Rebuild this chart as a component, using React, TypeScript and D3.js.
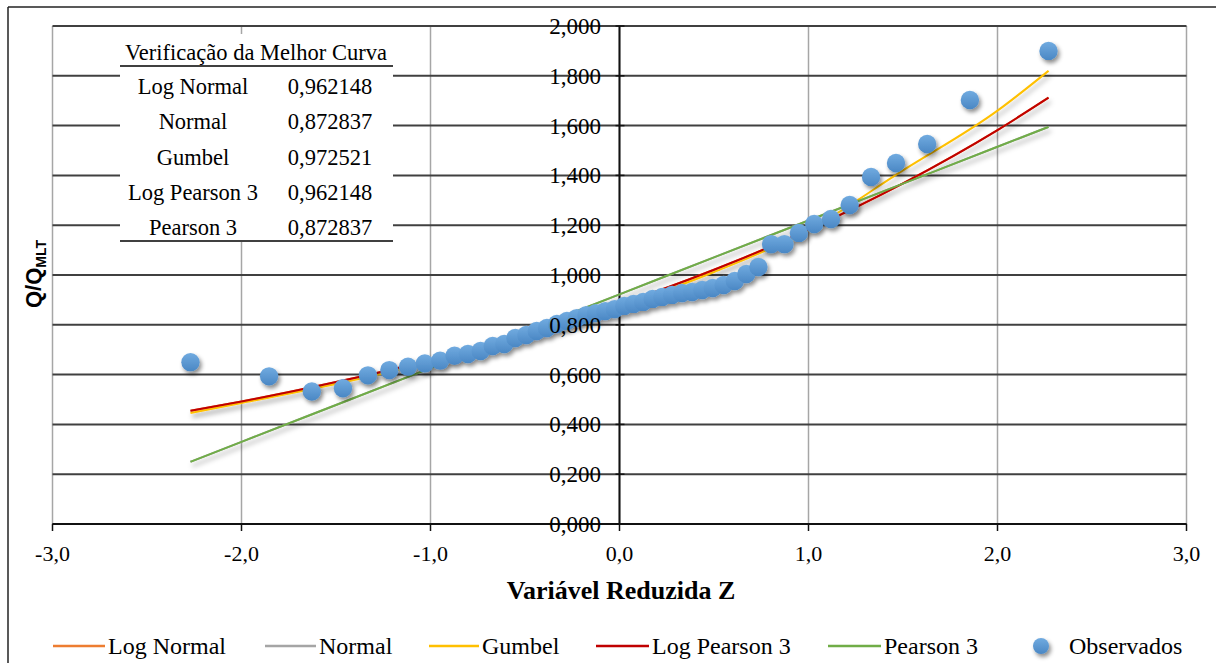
import React from 'react';
import * as d3 from 'd3';

const zObs = [
  -2.27, -1.854, -1.628, -1.463, -1.331, -1.218, -1.119, -1.03, -0.949, -0.873,
  -0.802, -0.735, -0.671, -0.61, -0.551, -0.493, -0.438, -0.384, -0.331, -0.278,
  -0.226, -0.175, -0.125, -0.075, -0.025, 0.025, 0.075, 0.125, 0.175, 0.226,
  0.278, 0.331, 0.384, 0.438, 0.493, 0.551, 0.61, 0.671, 0.735, 0.802,
  0.873, 0.949, 1.03, 1.119, 1.218, 1.331, 1.463, 1.628, 1.854, 2.27,
];
const qObs = [
  0.65, 0.593, 0.532, 0.545, 0.597, 0.618, 0.632, 0.645, 0.656, 0.676,
  0.683, 0.695, 0.715, 0.723, 0.747, 0.759, 0.775, 0.787, 0.803, 0.815,
  0.827, 0.839, 0.847, 0.855, 0.863, 0.876, 0.884, 0.892, 0.904, 0.912,
  0.92, 0.928, 0.932, 0.94, 0.948, 0.96, 0.976, 1.004, 1.032, 1.124,
  1.124, 1.169, 1.205, 1.225, 1.281, 1.394, 1.45, 1.526, 1.703, 1.9,
];

// fitted curves, sampled at these z values
const zFit = [-2.27, -2.0, -1.5, -1.0, -0.5, 0, 0.5, 1.0, 1.5, 2.0, 2.27];
const logNormal = [0.455, 0.492, 0.57, 0.659, 0.763, 0.882, 1.021, 1.182, 1.368, 1.582, 1.712];
const normal = [0.25, 0.33, 0.478, 0.626, 0.774, 0.922, 1.071, 1.219, 1.367, 1.515, 1.595];
const gumbel = [0.446, 0.486, 0.562, 0.65, 0.755, 0.873, 1.012, 1.18, 1.42, 1.66, 1.82];
const logPearson3 = [0.455, 0.492, 0.57, 0.659, 0.763, 0.882, 1.021, 1.182, 1.368, 1.582, 1.712];
const pearson3 = [0.25, 0.33, 0.478, 0.626, 0.774, 0.922, 1.071, 1.219, 1.367, 1.515, 1.595];

const seriesNames = ['Log Normal', 'Normal', 'Gumbel', 'Log Pearson 3', 'Pearson 3'];
const seriesValues = [logNormal, normal, gumbel, logPearson3, pearson3];
const seriesColors = ['#ED7D31', '#A5A5A5', '#FFC000', '#C00000', '#70AD47'];

// table in the top-left corner
const tableTitle = 'Verificação da Melhor Curva';
const tableNames = ['Log Normal', 'Normal', 'Gumbel', 'Log Pearson 3', 'Pearson 3'];
const tableValues = ['0,962148', '0,872837', '0,972521', '0,962148', '0,872837'];

const xTicks = [-3, -2, -1, 0, 1, 2, 3];
const yTicks = [0, 0.2, 0.4, 0.6, 0.8, 1.0, 1.2, 1.4, 1.6, 1.8, 2.0];

const W = 1216;
const H = 663;
const serif = '"Liberation Serif", "Times New Roman", serif';

const fmtY = (v: number) => v.toFixed(3).replace('.', ',');
const fmtX = (v: number) => v.toFixed(1).replace('.', ',');

// legend layout (line start/end, text start)
const legendLines = [[53, 105], [265, 316], [429, 479], [596, 649], [828, 881]];

const App: React.FC = () => {
  const x = d3.scaleLinear().domain([-3, 3]).range([52.5, 1186.5]);
  const y = d3.scaleLinear().domain([0, 2]).range([524, 26]);

  const line = d3.line<number>()
    .x((_, i) => x(zFit[i]))
    .y(d => y(d))
    .curve(d3.curveMonotoneX);

  const tableRowsY = [86, 121, 157, 192, 227];

  return (
    <svg width={W} height={H} style={{ position: 'fixed', left: 0, top: 0, display: 'block', background: '#fff' }}>
      <defs>
        <filter id="dotShadow" x="-50%" y="-50%" width="200%" height="200%">
          <feDropShadow dx="2" dy="3" stdDeviation="2" floodColor="#000" floodOpacity="0.45" />
        </filter>
        <filter id="lineShadow" x="-10%" y="-10%" width="120%" height="130%">
          <feDropShadow dx="2" dy="4" stdDeviation="2.5" floodColor="#000" floodOpacity="0.3" />
        </filter>
        <linearGradient id="dotFill" x1="0" y1="0" x2="0" y2="1">
          <stop offset="0%" stopColor="#71ABE0" />
          <stop offset="100%" stopColor="#4A87C4" />
        </linearGradient>
      </defs>

      {/* chart frame */}
      <line x1={8} x2={W} y1={7} y2={7} stroke="#222" strokeWidth={1.5} />
      <line x1={8} x2={8} y1={7} y2={H} stroke="#222" strokeWidth={1.5} />

      {/* vertical grid */}
      {xTicks.map(t => (
        <line key={'vg' + t} x1={x(t)} x2={x(t)} y1={y(2)} y2={y(0)} stroke="#A6A6A6" strokeWidth={1.5} />
      ))}
      {/* horizontal grid */}
      {yTicks.map(t => (
        <line key={'hg' + t} x1={x(-3)} x2={x(3)} y1={y(t)} y2={y(t)} stroke="#404040" strokeWidth={2} />
      ))}

      {/* axes */}
      <line x1={x(-3)} x2={x(3)} y1={y(0)} y2={y(0)} stroke="#111" strokeWidth={2} />
      <line x1={x(0)} x2={x(0)} y1={y(2)} y2={y(0)} stroke="#111" strokeWidth={2} />
      {xTicks.map(t => (
        <line key={'xt' + t} x1={x(t)} x2={x(t)} y1={y(0)} y2={y(0) + 7} stroke="#111" strokeWidth={1.5} />
      ))}
      {yTicks.map(t => (
        <line key={'yt' + t} x1={x(0) - 4} x2={x(0) + 5} y1={y(t)} y2={y(t)} stroke="#111" strokeWidth={1.5} />
      ))}

      {/* fitted curves */}
      <g filter="url(#lineShadow)">
        {seriesValues.map((vals, i) => (
          <path key={seriesNames[i]} d={line(vals) || ''} fill="none" stroke={seriesColors[i]} strokeWidth={2} />
        ))}
      </g>

      {/* observed points */}
      <g filter="url(#dotShadow)">
        {zObs.map((z, i) => (
          <circle key={'o' + i} cx={x(z)} cy={y(qObs[i])} r={9.2} fill="url(#dotFill)" />
        ))}
      </g>

      {/* tick labels */}
      {yTicks.map(t => (
        <text key={'yl' + t} x={601} y={y(t)} dy="0.35em" textAnchor="end" fontFamily={serif} fontSize={23} fill="#000">
          {fmtY(t)}
        </text>
      ))}
      {xTicks.map(t => (
        <text key={'xl' + t} x={x(t)} y={553} dy="0.35em" textAnchor="middle" fontFamily={serif} fontSize={22} fill="#000">
          {fmtX(t)}
        </text>
      ))}

      {/* axis titles */}
      <text x={621} y={590} dy="0.35em" textAnchor="middle" fontFamily={serif} fontWeight="bold" fontSize={26} fill="#000">
        Variável Reduzida Z
      </text>
      <text
        transform="translate(41,274) rotate(-90)"
        textAnchor="middle"
        fontFamily='"Liberation Sans", Arial, sans-serif'
        fontWeight="bold"
        fontSize={22}
        fill="#000"
      >
        Q/Q<tspan fontSize={14} dy={5}>MLT</tspan>
      </text>

      {/* table box */}
      <rect x={120} y={34} width={273} height={208} fill="#fff" />
      <text x={256} y={52} dy="0.35em" textAnchor="middle" fontFamily={serif} fontSize={22.5} fill="#000">
        {tableTitle}
      </text>
      <line x1={120} x2={393} y1={66} y2={66} stroke="#000" strokeWidth={1.5} />
      {tableNames.map((n, i) => (
        <g key={'tr' + i}>
          <text x={193} y={tableRowsY[i]} dy="0.35em" textAnchor="middle" fontFamily={serif} fontSize={22.5} fill="#000">{n}</text>
          <text x={330} y={tableRowsY[i]} dy="0.35em" textAnchor="middle" fontFamily={serif} fontSize={22.5} fill="#000">{tableValues[i]}</text>
        </g>
      ))}
      <line x1={120} x2={393} y1={241} y2={241} stroke="#000" strokeWidth={1.5} />

      {/* legend */}
      {seriesNames.map((n, i) => (
        <g key={'lg' + i}>
          <line x1={legendLines[i][0]} x2={legendLines[i][1]} y1={646} y2={646} stroke={seriesColors[i]} strokeWidth={2.5} />
          <text x={legendLines[i][1] + 3} y={646} dy="0.35em" fontFamily={serif} fontSize={24} fill="#000">{n}</text>
        </g>
      ))}
      <circle cx={1041} cy={646} r={8} fill="url(#dotFill)" filter="url(#dotShadow)" />
      <text x={1069} y={646} dy="0.35em" fontFamily={serif} fontSize={24} fill="#000">Observados</text>
    </svg>
  );
};

export default App;
